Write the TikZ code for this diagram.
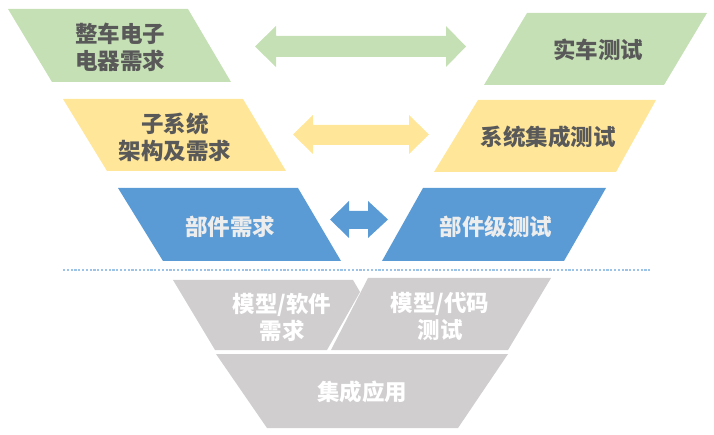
\documentclass[tikz,border=0pt]{standalone}
\usepackage{fontspec}
\setmainfont{Noto Sans CJK SC}
\definecolor{gfill}{HTML}{C5E0B4}
\definecolor{yfill}{HTML}{FFE699}
\definecolor{bfill}{HTML}{5B9BD5}
\definecolor{grfill}{HTML}{D0CECE}
\definecolor{dtxt}{HTML}{595959}
\definecolor{btxt}{HTML}{EDEDED}
\definecolor{dotc}{HTML}{9DC3E6}
\begin{document}
\begin{tikzpicture}[x=1pt,y=-1pt,
  lbl/.style={align=center,font=\fontsize{22.5}{27}\selectfont\bfseries,inner sep=0pt},
  dlbl/.style={lbl,text=dtxt},
  blbl/.style={lbl,text=btxt},
  wlbl/.style={lbl,text=white}]
\useasboundingbox (0,0) rectangle (714,435);
% top row
\fill[gfill] (8,9) -- (188,9) -- (231,82) -- (52,82) -- cycle;
\fill[gfill] (527,13) -- (707,13) -- (664,85) -- (484,85) -- cycle;
\node[dlbl] (n1) at (120,47) {整车电子\\电器需求};
\node[dlbl] (n2) at (598,50) {实车测试};
% green arrow
\fill[gfill] (255,46.5) -- (276,26) -- (276,36) -- (446,36) -- (446,26) -- (466,46.5)
  -- (446,67) -- (446,57) -- (276,57) -- (276,67) -- cycle;
% middle row
\fill[yfill] (63,99) -- (243,99) -- (286,171) -- (107,171) -- cycle;
\fill[yfill] (478,100) -- (656,100) -- (616,172) -- (434,172) -- cycle;
\node[dlbl] (n3) at (175,137) {子系统\\架构及需求};
\node[dlbl] (n4) at (548,137) {系统集成测试};
% yellow arrow
\fill[yfill] (293,134.5) -- (313,115) -- (313,125) -- (409,125) -- (409,115) -- (429,134.5)
  -- (409,154) -- (409,145) -- (313,145) -- (313,154) -- cycle;
% blue row
\fill[bfill] (118,188) -- (298,188) -- (341,261) -- (163,261) -- cycle;
\fill[bfill] (423,188) -- (606,188) -- (564,261) -- (382,261) -- cycle;
\node[blbl] (n5) at (230,227) {部件需求};
\node[blbl] (n6) at (496,227) {部件级测试};
% blue arrow
\fill[bfill] (330,219.5) -- (349,201) -- (349,211) -- (368,211) -- (368,201) -- (388,219.5)
  -- (368,238) -- (368,229) -- (349,229) -- (349,238) -- cycle;
% dotted separator
\coordinate (dl) at (63,270);
\coordinate (dr) at (650,270);
\draw[dotc,line width=1.6pt,dash pattern=on 2.2pt off 1.6pt] (dl) -- (dr);
% gray section
\fill[grfill] (173,280) -- (353,280) -- (360,292) -- (327,350) -- (215,350) -- cycle;
\fill[grfill] (368,278) -- (551,278) -- (508,350) -- (331,350) -- cycle;
\fill[grfill] (216,354) -- (508,354) -- (458,428) -- (267,428) -- cycle;
\node[wlbl] (n7) at (282,317) {模型/软件\\需求};
\node[wlbl] (n8) at (440,316) {模型/代码\\测试};
\node[wlbl] (n9) at (362,392) {集成应用};
\end{tikzpicture}
\end{document}
